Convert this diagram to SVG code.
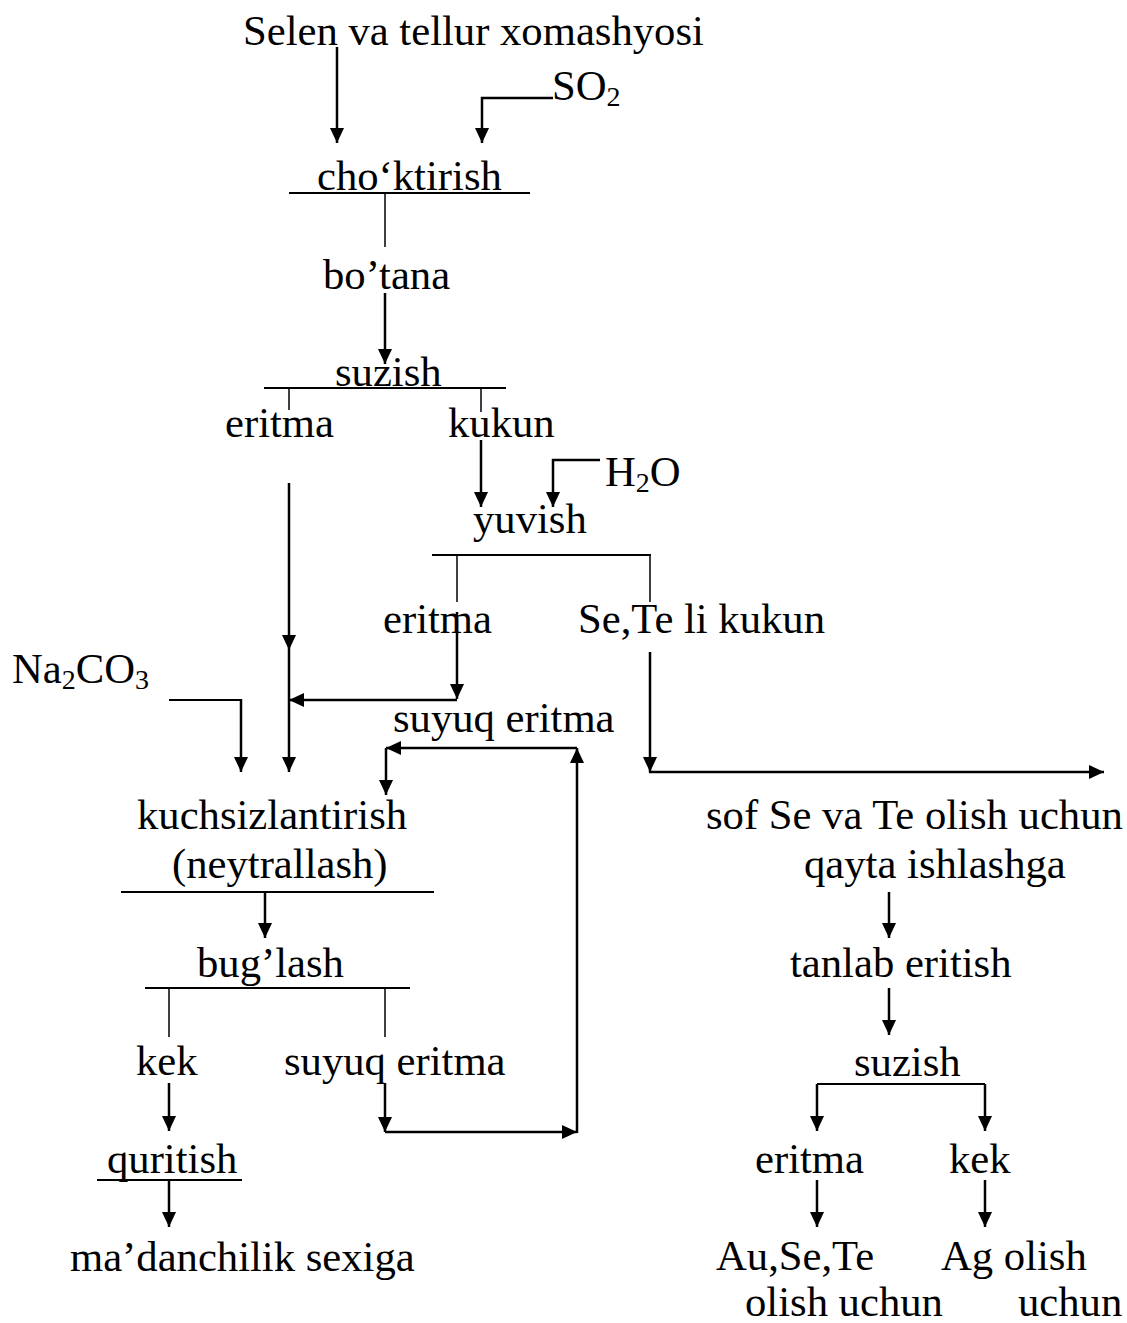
<svg xmlns="http://www.w3.org/2000/svg" width="1127" height="1323" viewBox="0 0 1127 1323">
<style>
text{font-family:"Liberation Serif","Times New Roman",serif;font-size:42.67px;fill:#000}
.sub{font-size:28px}
.ar{stroke:#000;stroke-width:2.5;fill:none;marker-end:url(#ah)}
.ln{stroke:#000;stroke-width:2.5;fill:none}
.pl{stroke:#000;stroke-width:2;fill:none}
.tk{stroke:#000;stroke-width:1.5;fill:none}
</style>
<defs>
<marker id="ah" viewBox="0 0 15 14" refX="15" refY="7" markerWidth="15" markerHeight="14" orient="auto" markerUnits="userSpaceOnUse"><path d="M0,0 L15,7 L0,14 z" fill="#000"/></marker>
</defs>
<rect width="1127" height="1323" fill="#fff"/>
<g id="n-raw"><text x="243" y="45">Selen va tellur xomashyosi</text></g>
<g id="n-so2"><text x="552" y="100">SO<tspan class="sub" dy="6">2</tspan></text></g>
<g id="n-choktirish"><text x="317" y="190">cho‘ktirish</text><line class="pl" x1="289" y1="193" x2="530" y2="193"/></g>
<g id="n-botana"><text x="323" y="289">bo’tana</text></g>
<g id="n-suzish1"><text x="335" y="386">suzish</text><line class="pl" x1="264" y1="388" x2="506" y2="388"/></g>
<g id="n-eritma1"><text x="225" y="437">eritma</text></g>
<g id="n-kukun"><text x="448" y="437">kukun</text></g>
<g id="n-h2o"><text x="605" y="486">H<tspan class="sub" dy="6">2</tspan><tspan dy="-6">O</tspan></text></g>
<g id="n-yuvish"><text x="473" y="533">yuvish</text><line class="pl" x1="432" y1="555" x2="651" y2="555"/></g>
<g id="n-eritma2"><text x="383" y="633">eritma</text></g>
<g id="n-setekukun"><text x="578" y="633">Se,Te li kukun</text></g>
<g id="n-na2co3"><text x="12" y="683">Na<tspan class="sub" dy="6">2</tspan><tspan dy="-6">CO</tspan><tspan class="sub" dy="6">3</tspan></text></g>
<g id="n-suyuq1"><text x="393" y="732">suyuq eritma</text></g>
<g id="n-kuchsiz"><text x="137" y="829">kuchsizlantirish</text><text x="172" y="878">(neytrallash)</text><line class="pl" x1="121" y1="892" x2="434" y2="892"/></g>
<g id="n-buglash"><text x="197" y="977">bug’lash</text><line class="pl" x1="145" y1="988" x2="410" y2="988"/></g>
<g id="n-kek1"><text x="136" y="1075">kek</text></g>
<g id="n-suyuq2"><text x="284" y="1075">suyuq eritma</text></g>
<g id="n-quritish"><text x="107" y="1173">quritish</text><line class="pl" x1="97" y1="1180" x2="242" y2="1180"/></g>
<g id="n-madan"><text x="70" y="1271">ma’danchilik sexiga</text></g>
<g id="n-sof"><text x="706" y="829">sof Se va Te olish uchun</text><text x="804" y="878">qayta ishlashga</text></g>
<g id="n-tanlab"><text x="790" y="977">tanlab eritish</text></g>
<g id="n-suzish2"><text x="854" y="1076">suzish</text></g>
<g id="n-eritma3"><text x="755" y="1173">eritma</text></g>
<g id="n-kek2"><text x="949" y="1173">kek</text></g>
<g id="n-ause"><text x="716" y="1270">Au,Se,Te</text><text x="745" y="1316">olish uchun</text></g>
<g id="n-ag"><text x="941" y="1270">Ag olish</text><text x="1018" y="1316">uchun</text></g>
<g id="connectors">
<line class="ar" x1="337" y1="47" x2="337" y2="143"/>
<polyline class="ar" points="553,98 482,98 482,143"/>
<line class="tk" x1="385" y1="193" x2="385" y2="247"/>
<line class="ar" x1="385" y1="293" x2="385" y2="364"/>
<line class="tk" x1="289" y1="388" x2="289" y2="410"/>
<line class="tk" x1="481" y1="388" x2="481" y2="412"/>
<line class="ar" x1="481" y1="440" x2="481" y2="507"/>
<polyline class="ar" points="600,460 553,460 553,507"/>
<line class="tk" x1="457" y1="555" x2="457" y2="602"/>
<line class="tk" x1="650" y1="555" x2="650" y2="602"/>
<line class="ar" x1="457" y1="612" x2="457" y2="699"/>
<line class="ar" x1="457" y1="700" x2="289" y2="700"/>
<line class="ar" x1="289" y1="483" x2="289" y2="650"/>
<line class="ar" x1="289" y1="650" x2="289" y2="772"/>
<line class="pl" x1="169" y1="700" x2="241" y2="700"/>
<line class="ar" x1="241" y1="699" x2="241" y2="772"/>
<line class="ar" x1="577" y1="748" x2="386" y2="748"/>
<line class="ar" x1="386" y1="748" x2="386" y2="795"/>
<line class="ar" x1="265" y1="892" x2="265" y2="938"/>
<line class="tk" x1="169" y1="988" x2="169" y2="1037"/>
<line class="tk" x1="385" y1="988" x2="385" y2="1037"/>
<line class="ar" x1="169" y1="1083" x2="169" y2="1131"/>
<line class="ar" x1="385" y1="1083" x2="385" y2="1132"/>
<line class="ar" x1="385" y1="1132" x2="577" y2="1132"/>
<line class="ar" x1="577" y1="1133" x2="577" y2="748"/>
<line class="ar" x1="169" y1="1180" x2="169" y2="1227"/>
<line class="ar" x1="650" y1="652" x2="650" y2="772"/>
<line class="ar" x1="649" y1="772" x2="1104" y2="772"/>
<line class="ar" x1="889" y1="892" x2="889" y2="938"/>
<line class="ar" x1="889" y1="988" x2="889" y2="1035"/>
<polyline class="ar" points="817,1084 817,1131"/>
<polyline class="pl" points="817,1084 985,1084"/>
<line class="ar" x1="985" y1="1084" x2="985" y2="1131"/>
<line class="ar" x1="817" y1="1180" x2="817" y2="1227"/>
<line class="ar" x1="985" y1="1180" x2="985" y2="1227"/>
</g>
</svg>
